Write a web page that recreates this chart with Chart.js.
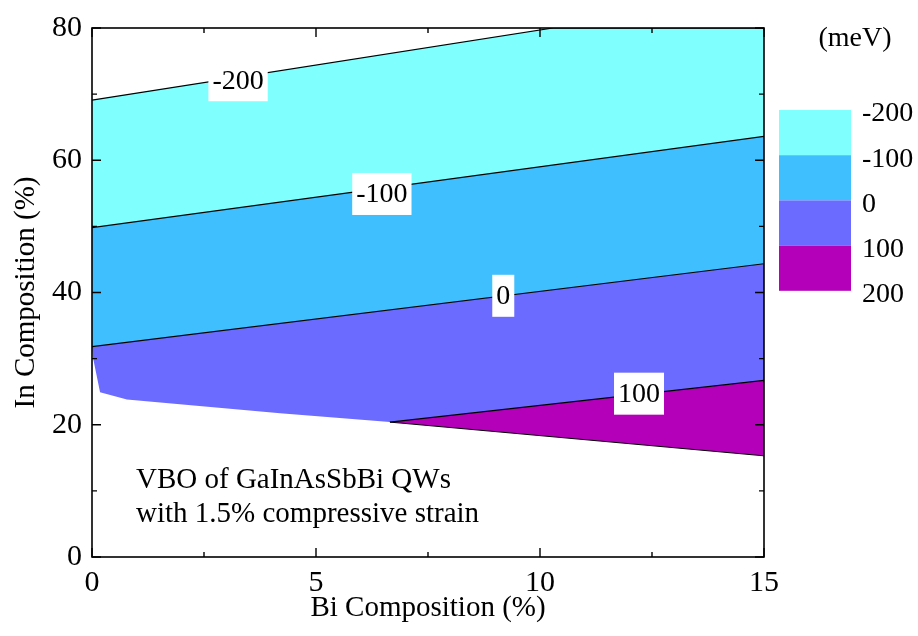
<!DOCTYPE html>
<html>
<head>
<meta charset="utf-8">
<script src="https://cdn.jsdelivr.net/npm/chart.js@4.4.1/dist/chart.umd.min.js"></script>
<style>
  html, body { margin: 0; padding: 0; background: #ffffff; }
  #wrap { width: 918px; height: 636px; }
</style>
</head>
<body>
<div id="wrap"><canvas id="c" width="918" height="636"></canvas></div>
<script>
// Contour levels (meV) and the fill colour of each band between them
const levels = [-200, -100, 0, 100, 200];
const bandColors = ['#80FFFF', '#40BFFF', '#6B6BFF', '#B400B8'];

// Contour lines: Bi composition (%) vs In composition (%)
const lineM200 = [{x: 0, y: 69.1}, {x: 10.29, y: 80}, {x: 15, y: 80}];
const lineM100 = [{x: 0, y: 49.8}, {x: 15, y: 63.6}];
const line0 = [{x: 0, y: 31.8}, {x: 15, y: 44.35}];
const line100 = [{x: 6.65, y: 20.4}, {x: 15, y: 26.7}];
// lower edge of the computed domain
const domainEdgeLeft = [{x: 0, y: 31.8}, {x: 0.02, y: 30.2}, {x: 0.18, y: 24.9}, {x: 0.78, y: 23.8}, {x: 4.2, y: 21.75}, {x: 6.65, y: 20.4}, {x: 15, y: 26.7}];
const domainEdgeRight = [{x: 6.65, y: 20.4}, {x: 15, y: 15.3}];

// In-plot contour labels
const contourText = ['-200', '-100', '0', '100'];
const contourLabelX = [3.26, 6.47, 9.18, 12.21];
const contourLabelY = [72.1, 54.9, 39.5, 24.7];

// Axis ticks
const xMajor = [0, 5, 10, 15];
const xMinor = [2.5, 7.5, 12.5];
const yMajor = [0, 20, 40, 60, 80];
const yMinor = [10, 30, 50, 70];

const noteLines = ['VBO of GaInAsSbBi QWs', 'with 1.5% compressive strain'];

const SERIF = '"Liberation Serif", "Times New Roman", serif';

function lineSet(data, opts) {
  return Object.assign({
    data: data,
    borderColor: '#000000',
    borderWidth: 1.2,
    pointRadius: 0,
    pointHoverRadius: 0,
    tension: 0,
    fill: false
  }, opts);
}

const framePlugin = {
  id: 'frame',
  afterDatasetsDraw(chart) {
    const {ctx, chartArea: a, scales: {x, y}} = chart;
    ctx.save();
    // contour labels on white boxes
    ctx.font = '28px ' + SERIF;
    ctx.textAlign = 'center';
    ctx.textBaseline = 'middle';
    contourText.forEach((t, i) => {
      const cx = x.getPixelForValue(contourLabelX[i]);
      const cy = y.getPixelForValue(contourLabelY[i]);
      const w = ctx.measureText(t).width;
      ctx.fillStyle = '#ffffff';
      ctx.fillRect(cx - w / 2 - 4, cy - 21, w + 8, 42);
      ctx.fillStyle = '#000000';
      ctx.fillText(t, cx, cy + 1);
    });

    // frame
    ctx.strokeStyle = '#000000';
    ctx.lineWidth = 1.6;
    ctx.strokeRect(a.left, a.top, a.right - a.left, a.bottom - a.top);

    // inward ticks on all four sides
    ctx.lineWidth = 1.4;
    ctx.beginPath();
    const xt = (vals, len) => vals.forEach(v => {
      const px = x.getPixelForValue(v);
      ctx.moveTo(px, a.bottom); ctx.lineTo(px, a.bottom - len);
      ctx.moveTo(px, a.top); ctx.lineTo(px, a.top + len);
    });
    const yt = (vals, len) => vals.forEach(v => {
      const py = y.getPixelForValue(v);
      ctx.moveTo(a.left, py); ctx.lineTo(a.left + len, py);
      ctx.moveTo(a.right, py); ctx.lineTo(a.right - len, py);
    });
    xt(xMajor, 9); xt(xMinor, 5);
    yt(yMajor, 9); yt(yMinor, 5);
    ctx.stroke();

    // annotation text
    ctx.font = '29px ' + SERIF;
    ctx.textAlign = 'left';
    ctx.textBaseline = 'alphabetic';
    ctx.fillStyle = '#000000';
    noteLines.forEach((t, i) => ctx.fillText(t, 136, 488 + i * 34));

    // colour bar
    const barX = 779, barW = 72, barTop = 110, bandH = 45.2;
    bandColors.forEach((c, i) => {
      ctx.fillStyle = c;
      ctx.fillRect(barX, barTop + i * bandH, barW, bandH);
    });
    ctx.fillStyle = '#000000';
    ctx.font = '28px ' + SERIF;
    ctx.textBaseline = 'middle';
    levels.forEach((lv, i) => {
      ctx.fillText(String(lv), 862, barTop + i * bandH + 4);
    });
    ctx.textAlign = 'center';
    ctx.fillText('(meV)', 855, 39);
    ctx.restore();
  }
};

new Chart(document.getElementById('c'), {
  type: 'line',
  data: {
    datasets: [
      lineSet(lineM200, {}),
      lineSet(lineM100, {fill: 0, backgroundColor: bandColors[0]}),
      lineSet(line0, {fill: 1, backgroundColor: bandColors[1]}),
      lineSet(domainEdgeLeft, {fill: 2, backgroundColor: bandColors[2], borderWidth: 0}),
      lineSet(line100, {}),
      lineSet(domainEdgeRight, {fill: 4, backgroundColor: bandColors[3], borderWidth: 1})
    ]
  },
  options: {
    responsive: false,
    animation: false,
    events: [],
    layout: {padding: {left: 0, right: 154, top: 20, bottom: 0}},
    plugins: {
      legend: {display: false},
      tooltip: {enabled: false},
      filler: {drawTime: 'beforeDatasetsDraw'}
    },
    scales: {
      x: {
        type: 'linear',
        min: 0, max: 15,
        grid: {display: false, drawTicks: false},
        border: {display: false},
        ticks: {stepSize: 5, padding: 8, color: '#000', font: {family: SERIF, size: 30}},
        title: {display: true, text: 'Bi Composition (%)', color: '#000',
                font: {family: SERIF, size: 29}, padding: {top: 0, bottom: 10}},
        afterFit(s) { s.height = 79; }
      },
      y: {
        type: 'linear',
        min: 0, max: 80,
        grid: {display: false, drawTicks: false},
        border: {display: false},
        ticks: {stepSize: 20, padding: 10, color: '#000', font: {family: SERIF, size: 30}},
        title: {display: true, text: 'In Composition (%)', color: '#000',
                font: {family: SERIF, size: 29}, padding: {top: 9, bottom: 0}},
        afterFit(s) { s.width = 92; }
      }
    }
  },
  plugins: [framePlugin]
});
</script>
</body>
</html>
